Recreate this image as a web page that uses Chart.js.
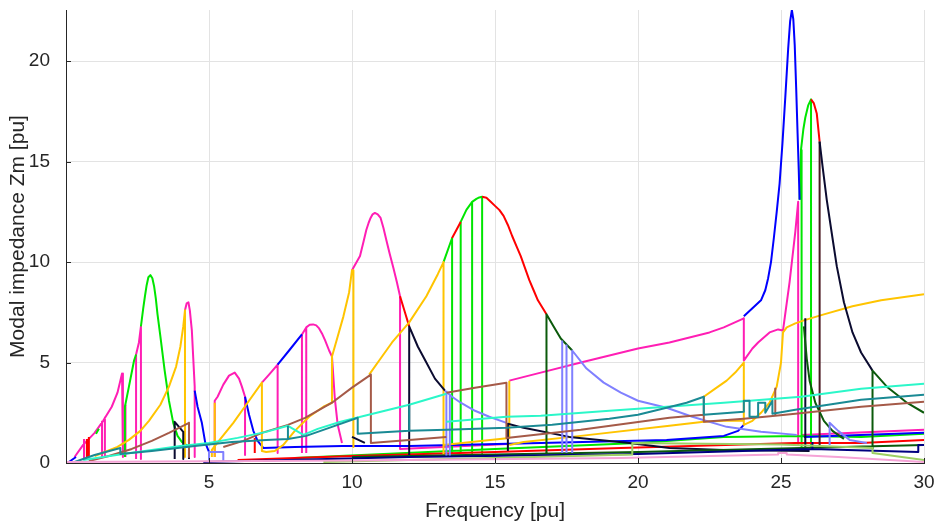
<!DOCTYPE html>
<html>
<head>
<meta charset="utf-8">
<script src="https://cdn.jsdelivr.net/npm/chart.js@4.4.1/dist/chart.umd.min.js"></script>
<style>
  html, body { margin: 0; padding: 0; background: #fff; }
  #wrap { width: 938px; height: 525px; }
</style>
</head>
<body>
<div id="wrap"><canvas id="zmChart" width="938" height="525"></canvas></div>
<script>
// axis ticks
const freqTicks = [0, 5, 10, 15, 20, 25, 30];
const zmTicks = [0, 5, 10, 15, 20];

// modal impedance traces, [frequency, Zm], null = break
const lightPinkZm = [
  [0, 0.05], [10, 0.12], [19.4, 0.25], [24.9, 0.42], [24.9, 0.5], [25.2, 0.5], [25.2, 0.42], [27, 0.3], [30, 0.05]
];
const lightGreenZm = [
  [9, 0.05], [15, 0.25], [19.8, 0.42], [19.8, 1.0], [25, 0.92], [28.2, 0.75], [28.2, 0.5], [30, 0.15]
];
const navyZm = [
  [4.8, 0.05], [12, 0.3], [20, 0.45], [26.1, 0.7], [29.8, 0.55], [29.8, 0.9], [30, 0.9], null,
  [26.1, 0.7], [26.1, 1.05]
];
const tealZm = [
  [0.3, 0.05], [1.0, 0.4], [1.9, 0.75], [1.9, 0.45], [3, 0.6], [4.5, 0.85], [5.8, 1.05], [7.0, 1.15], [7.76, 1.2],
  [8.4, 1.35], [9.3, 1.8], [10.2, 2.25], [10.2, 1.45], [12, 1.6], [13.3, 1.65], [15.4, 1.75], [17, 1.9], [19, 2.2],
  [20, 2.4], [21, 2.75], [21.7, 3.0], [22.3, 3.3], [22.3, 2.4], [23.7, 2.55], [23.7, 3.1], [23.9, 3.1], [23.9, 2.3],
  [24.2, 2.3], [24.2, 3.0], [24.45, 3.0], [24.45, 2.5], [24.7, 3.1], [24.7, 2.45], [25.5, 2.65], [27.8, 3.15], [30, 3.4], null,
  [12.0, 1.6], [12.0, 2.9], null, [7.76, 1.2], [7.76, 1.85]
];
const aquaZm = [
  [0.6, 0.15], [2, 0.45], [3, 0.65], [4, 0.85], [5, 1.0], [6, 1.25], [7, 1.55], [7.76, 1.85], [8.3, 1.4], [8.8, 1.7],
  [9.6, 2.05], [10.3, 2.3], [12, 2.9], [13.3, 3.45], null,
  [13.3, 2.05], [15.4, 2.3], [16.6, 2.35], [19, 2.6], [21, 2.8], [23, 3.0], [25.7, 3.3], [27.8, 3.7], [30, 3.95]
];
const brownZm = [
  [0.8, 0.1], [1.5, 0.35], [2.3, 0.7], [3.0, 1.1], [3.6, 1.5], [4.3, 2.0], [4.3, 0.3], null,
  [5.5, 0.8], [6.2, 1.1], [6.85, 1.5], [7.76, 1.9], [8.36, 2.25], [9.3, 3.0], [10.0, 3.75], [10.66, 4.4], [10.66, 1.0],
  [12.0, 1.15], [13.3, 1.3], null,
  [13.3, 3.5], [14.3, 3.75], [15.4, 4.0], [15.4, 1.25], [18, 1.65], [21.1, 2.25], [22.3, 2.4], null,
  [22.3, 3.3], [22.3, 2.05], [23.7, 2.2], [24.8, 2.35], [24.8, 3.75], null,
  [24.8, 2.35], [25.5, 2.45], [27.8, 2.8], [30, 3.05]
];
const lavenderZm = [
  [13.25, 3.6], [13.5, 3.3], [13.8, 3.0], [14.3, 2.6], [14.8, 2.3], [15.4, 2.0], null,
  [13.3, 0.3], [13.3, 3.6], null, [13.42, 0.3], [13.42, 3.45], null,
  [17.35, 0.5], [17.35, 6.1], null, [17.5, 0.5], [17.5, 5.9], null,
  [17.7, 0.5], [17.7, 5.6], [18.2, 4.7], [18.8, 4.0], [19.4, 3.5], [20, 3.1], [21, 2.75], [21.9, 2.3], [23.1, 1.8],
  [24.3, 1.55], [25.55, 1.4], null,
  [5.0, 0.1], [5.0, 0.55], [5.5, 0.55], [5.5, 0.1], null,
  [26.7, 0.9], [26.7, 2.0], [27.0, 1.6], [27.4, 1.15], [28, 1.0]
];
const darkGreenZm = [
  [10, 0.3], [20, 0.55], [30, 0.9], null,
  [16.8, 0.5], [16.8, 7.4], [17.05, 6.8], [17.3, 6.2], [17.5, 5.9], [17.7, 5.6], null,
  [25.8, 6.8], [25.9, 5.2], [26.0, 4.1], [26.2, 3.0], [26.5, 2.1], [26.8, 1.6], [27.2, 1.2], null,
  [28.2, 0.7], [28.2, 4.6], [28.7, 3.8], [29.1, 3.35], [29.4, 3.0], [30, 2.5]
];
const navyBlackZm = [
  [3.8, 0.2], [3.8, 2.05], [3.95, 1.8], [4.1, 1.55], [4.1, 0.2], null, [4.3, 0.2], [4.3, 1.2], null,
  [10.0, 1.3], [10.45, 1.0], null,
  [12.0, 0.4], [12.0, 6.8], [12.3, 5.8], [12.6, 5.0], [12.9, 4.2], [13.25, 3.6], null,
  [15.45, 0.6], [15.45, 1.95], [16, 1.75], [17.6, 1.3], [19.7, 1.0], [21.1, 0.75], [23, 0.65], [26, 0.6], null,
  [25.85, 0.7], [25.85, 7.2], null,
  [26.35, 16.0], [26.45, 14.8], [26.6, 13.1], [26.8, 11.2], [26.95, 9.8], [27.2, 8.0], [27.5, 6.5], [27.8, 5.5], [28.2, 4.6]
];
const maroonZm = [
  [26.35, 0.8], [26.35, 16.0]
];
const yellowZm = [
  [1.0, 0.35], [1.36, 0.55], [1.8, 0.8], [2.2, 1.15], [2.6, 1.6], [2.9, 2.1], [3.3, 2.9], [3.6, 3.8], [3.85, 4.8],
  [4.0, 5.8], [4.1, 6.8], [4.16, 7.6], [4.16, 0.3], null,
  [5.2, 0.3], [5.2, 3.0], null,
  [5.1, 0.3], [5.1, 0.65], [5.4, 1.2], [5.85, 2.0], [6.3, 2.9], [6.85, 4.0], [6.85, 0.6], [7.0, 0.55], [7.3, 0.6],
  [7.6, 0.9], [8.0, 1.6], [8.5, 2.3], [9.0, 2.8], [9.3, 3.0], [9.3, 5.3], [9.5, 6.3], [9.7, 7.3], [9.9, 8.5],
  [10.0, 9.6], [10.05, 9.6], [10.05, 0.8], null,
  [10.6, 4.4], [11.0, 5.2], [11.4, 6.0], [12.0, 7.0], [12.6, 8.3], [13.0, 9.4], [13.2, 10.0], [13.2, 0.4], null,
  [13.2, 0.9], [14.5, 1.1], [15.5, 1.25], [15.5, 4.1], null,
  [15.5, 0.9], [16, 1.05], [18, 1.35], [21.1, 1.85], [22.3, 2.05], [23.0, 2.1], [23.7, 2.1], null,
  [22.3, 3.3], [22.7, 3.7], [23.1, 4.1], [23.4, 4.5], [23.7, 5.0], [23.7, 1.9], [24.0, 2.1], [24.3, 2.5], [24.6, 3.0],
  [24.85, 3.8], [25.0, 5.0], [25.07, 6.5], [25.2, 6.75], [25.5, 6.95], [25.8, 7.1], [26.5, 7.4], [27.5, 7.8],
  [28.5, 8.1], [30, 8.4]
];
const blueZm = [
  [0.05, 0.0], [0.35, 0.3], null,
  [4.5, 3.6], [4.6, 2.8], [4.75, 2.0], [4.87, 1.0], [5.0, 0.55], null,
  [6.26, 3.3], [6.4, 2.4], [6.55, 1.6], [6.7, 1.1], [6.9, 0.75], [8, 0.8], [9.65, 0.85], [12, 0.85], [16.6, 1.0],
  [21, 1.15], [23, 1.35], [23.5, 1.6], [23.7, 1.9], null,
  [7.4, 4.9], [7.8, 5.6], [8.25, 6.4], null,
  [23.7, 7.3], [24.0, 7.7], [24.3, 8.1], [24.45, 8.6], [24.55, 9.2], [24.65, 10.0], [24.75, 11.2], [24.85, 12.5],
  [24.95, 13.9], [25.05, 15.9], [25.15, 18.2], [25.25, 20.6], [25.32, 22.0], [25.38, 22.55], [25.43, 22.1],
  [25.48, 20.8], [25.53, 18.7], [25.58, 16.4], [25.62, 14.6], [25.65, 13.1], null,
  [25.8, 1.3], [30, 1.5]
];
const redZm = [
  [6, 0.15], [10, 0.35], [15, 0.55], [19.4, 0.75], [25.5, 1.0], [27.8, 1.0], [30, 1.15], null,
  [0.73, 0.3], [0.73, 1.2], null, [0.8, 0.3], [0.8, 1.3], null, [6.6, 0.5], [6.6, 1.25], null,
  [11.68, 8.3], [11.85, 7.5], [12.0, 6.8], null,
  [13.5, 11.2], [13.65, 11.6], [13.8, 12.0], null,
  [14.55, 13.25], [14.7, 13.2], [14.85, 13.0], [15.0, 12.8], [15.15, 12.6], [15.3, 12.3], [15.45, 11.85],
  [15.6, 11.3], [15.75, 10.8], [15.9, 10.3], [16.05, 9.7], [16.2, 9.1], [16.35, 8.6], [16.5, 8.1], [16.65, 7.75], [16.8, 7.4], null,
  [26.05, 18.1], [26.15, 17.9], [26.25, 17.4], [26.35, 16.0]
];
const greenZm = [
  [8, 0.25], [15, 0.7], [20, 1.0], [23, 1.3], [25.7, 1.35], [27.8, 1.3], [30, 1.45], null,
  [1.05, 1.45], [1.15, 1.7], null,
  [2.06, 0.3], [2.06, 2.8], [2.2, 3.8], [2.38, 5.1], [2.45, 5.4], null,
  [2.62, 6.8], [2.7, 7.7], [2.76, 8.3], [2.82, 8.85], [2.88, 9.25], [2.95, 9.35], [3.02, 9.2], [3.08, 8.8], [3.14, 8.2],
  [3.2, 7.4], [3.3, 6.3], [3.45, 4.6], [3.6, 3.1], [3.75, 2.0], [3.9, 1.35], [4.05, 1.05], [4.3, 0.8], null,
  [13.2, 10.0], [13.5, 11.2], [13.5, 0.5], null,
  [13.8, 0.5], [13.8, 12.0], [14.0, 12.6], [14.2, 13.0], [14.2, 0.5], null,
  [14.2, 13.0], [14.35, 13.15], [14.45, 13.22], [14.55, 13.25], [14.55, 0.5], null,
  [25.65, 13.1], [25.7, 15.6], [25.78, 16.6], [25.85, 17.2], [25.95, 17.8], [26.05, 18.1], [26.05, 0.8], null,
  [25.72, 0.8], [25.72, 15.6]
];
const magentaZm = [
  [0.3, 0.3], [0.6, 0.9], [1.0, 1.5], [1.3, 2.1], [1.6, 2.8], [1.8, 3.5], [1.9, 4.1], [1.96, 4.45], [1.99, 4.0], [1.99, 0.3], null,
  [0.63, 0.2], [0.63, 1.2], null, [1.26, 0.3], [1.26, 2.1], null, [1.36, 0.3], [1.36, 2.3], null,
  [2.08, 0.3], [2.08, 2.9], null,
  [2.45, 0.2], [2.45, 5.4], [2.55, 6.0], [2.62, 6.8], [2.62, 0.2], null,
  [4.16, 7.6], [4.22, 7.95], [4.28, 8.0], [4.33, 7.6], [4.4, 6.6], [4.45, 5.2], [4.5, 3.8], [4.5, 0.3], null,
  [5.2, 0.3], [5.2, 3.1], [5.3, 3.3], [5.5, 3.9], [5.7, 4.35], [5.9, 4.5], [6.05, 4.2], [6.15, 3.8], [6.26, 3.3], [6.26, 0.4], null,
  [6.85, 4.0], [7.1, 4.4], [7.4, 4.9], [7.4, 0.5], null,
  [8.25, 0.5], [8.25, 6.4], [8.4, 6.75], [8.52, 6.88], [8.64, 6.9], [8.75, 6.85], [8.85, 6.7], [8.95, 6.45],
  [9.06, 6.1], [9.2, 5.6], [9.3, 5.3], [9.4, 3.2], [9.5, 1.9], [9.65, 1.0], null, [8.4, 0.5], [8.4, 6.75], null,
  [10.0, 9.6], [10.28, 10.3], [10.4, 11.0], [10.5, 11.6], [10.58, 11.95], [10.65, 12.2], [10.72, 12.38], [10.8, 12.45],
  [10.9, 12.38], [11.0, 12.2], [11.1, 11.7], [11.2, 11.1], [11.32, 10.4], [11.45, 9.7], [11.57, 9.0],
  [11.68, 8.3], [11.68, 0.7], [15.45, 0.95], null,
  [15.5, 4.1], [16.6, 4.5], [18, 5.0], [20, 5.7], [21.1, 6.0], [22.5, 6.5], [23.0, 6.75], [23.7, 7.2], [23.7, 5.1],
  [24.0, 5.7], [24.2, 6.0], [24.6, 6.5], [24.9, 6.65], [25.07, 6.6], [25.3, 9.0], [25.5, 11.5], [25.6, 13.0], [25.6, 0.9], null,
  [25.7, 1.4], [30, 1.65]
];

function toPoints(arr) {
  const out = [];
  let lastX = 0;
  arr.forEach(p => {
    if (p === null) out.push({x: lastX, y: null});
    else { out.push({x: p[0], y: p[1]}); lastX = p[0]; }
  });
  return out;
}

const traces = [
  [lightPinkZm, '#f5a3d6'],
  [lightGreenZm, '#9ccf63'],
  [navyZm, '#000080'],
  [tealZm, '#1a8a94'],
  [aquaZm, '#2bf7c9'],
  [brownZm, '#a55a48'],
  [lavenderZm, '#8080ff'],
  [darkGreenZm, '#0b5a0b'],
  [navyBlackZm, '#0b0b30'],
  [maroonZm, '#4a1a22'],
  [yellowZm, '#ffc400'],
  [blueZm, '#0000ff'],
  [redZm, '#ff0000'],
  [greenZm, '#00e600'],
  [magentaZm, '#ff1eb4']
];

const textColor = '#262626';
const fontFamily = 'Liberation Sans, Arial, sans-serif';

const inwardTicks = {
  id: 'inwardTicks',
  afterDraw(chart) {
    const {ctx, chartArea, scales} = chart;
    ctx.save();
    ctx.strokeStyle = textColor;
    ctx.lineWidth = 1;
    ctx.beginPath();
    freqTicks.forEach(v => {
      const px = Math.round(scales.x.getPixelForValue(v)) + 0.5;
      ctx.moveTo(px, chartArea.bottom);
      ctx.lineTo(px, chartArea.bottom - 5);
    });
    zmTicks.forEach(v => {
      const py = Math.round(scales.y.getPixelForValue(v)) + 0.5;
      ctx.moveTo(chartArea.left, py);
      ctx.lineTo(chartArea.left + 5, py);
    });
    ctx.stroke();
    ctx.restore();
  }
};

new Chart(document.getElementById('zmChart'), {
  type: 'line',
  data: {
    datasets: traces.map(t => ({
      data: toPoints(t[0]),
      borderColor: t[1],
      borderWidth: 2,
      pointRadius: 0,
      tension: 0,
      spanGaps: false,
      fill: false,
      borderJoinStyle: 'round'
    }))
  },
  options: {
    responsive: false,
    animation: false,
    devicePixelRatio: 1,
    layout: { padding: { left: 0, right: 14, top: 10, bottom: 0 } },
    plugins: { legend: { display: false }, tooltip: { enabled: false } },
    scales: {
      x: {
        type: 'linear',
        min: 0,
        max: 30,
        afterBuildTicks: s => { s.ticks = freqTicks.map(v => ({value: v})); },
        afterFit: s => { s.height = 62; s.paddingLeft = 0; s.paddingRight = 0; },
        ticks: {
          callback: v => (v === 0 ? '' : v),
          color: textColor,
          font: { family: fontFamily, size: 19 },
          padding: 8,
          maxRotation: 0,
          autoSkip: false
        },
        grid: { color: '#e3e3e3', lineWidth: 1, drawTicks: false },
        border: { display: true, color: textColor, width: 1 },
        title: {
          display: true,
          text: 'Frequency [pu]',
          color: textColor,
          font: { family: fontFamily, size: 21 },
          padding: { top: 1, bottom: 1 }
        }
      },
      y: {
        type: 'linear',
        min: 0,
        max: 22.55,
        afterBuildTicks: s => { s.ticks = zmTicks.map(v => ({value: v})); },
        afterFit: s => { s.width = 66; s.paddingTop = 0; s.paddingBottom = 0; },
        ticks: {
          color: textColor,
          font: { family: fontFamily, size: 19 },
          padding: 16
        },
        grid: { color: '#e3e3e3', lineWidth: 1, drawTicks: false },
        border: { display: true, color: textColor, width: 1 },
        title: {
          display: true,
          text: 'Modal impedance Zm [pu]',
          color: textColor,
          font: { family: fontFamily, size: 21 },
          padding: { top: 6, bottom: 6 }
        }
      }
    }
  },
  plugins: [inwardTicks]
});
</script>
</body>
</html>
